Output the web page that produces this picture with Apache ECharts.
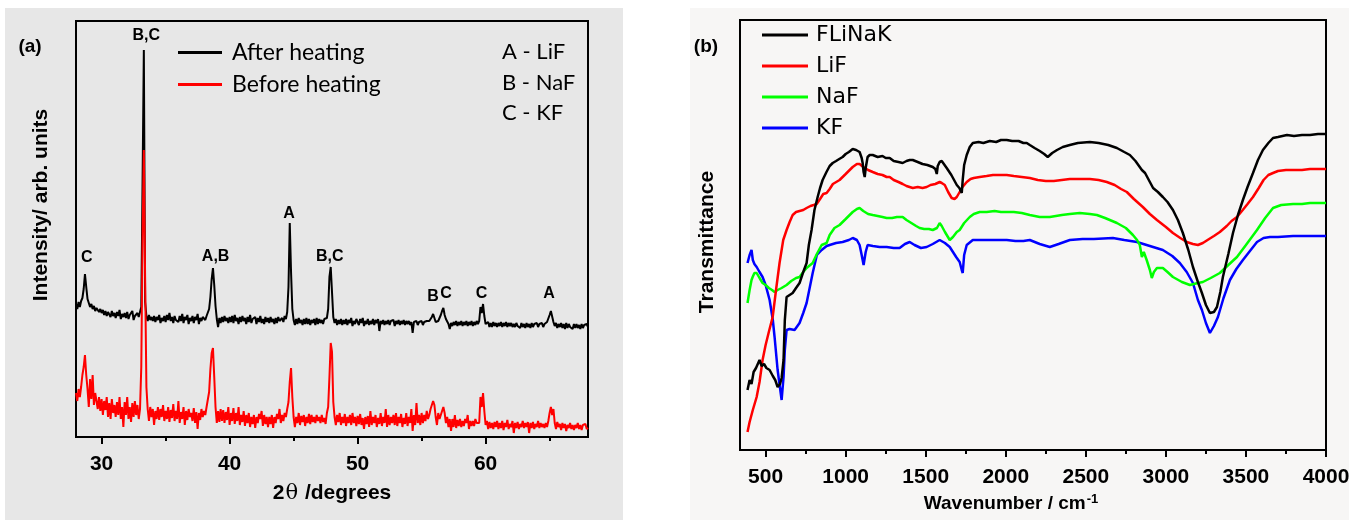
<!DOCTYPE html>
<html>
<head>
<meta charset="utf-8">
<title>XRD and FTIR of FLiNaK</title>
<script src="https://cdn.jsdelivr.net/npm/echarts@6/dist/echarts.min.js"></script>
<style>
  html, body { margin: 0; padding: 0; background: #fff; }
  #wrap { position: relative; width: 1359px; height: 520px; }
  .panel { position: absolute; }
  #bgA { left: 5px; top: 8px; width: 618px; height: 512px; background: #e7e7e7; }
  #bgB { left: 690px; top: 8px; width: 659px; height: 512px; background: #f7f6f5; }
  #chart { position: absolute; left: 0; top: 0; width: 1359px; height: 520px; }
</style>
</head>
<body>
<div id="wrap">
  <div class="panel" id="bgA"></div>
  <div class="panel" id="bgB"></div>
  <div id="chart"></div>
</div>
<script>
// (a) XRD step scan: 28.0 .. 68.0 deg, 0.1 deg step, intensity in arb. units
const scanStart = 28.0;
const scanStep = 0.1;
// after heating (one row = one degree)
const xrdAfter = [
  133,128,135,130,136,139,148,163,150,138,
  134,130,133,128,131,126,129,127,125,128,
  124,127,122,126,121,125,123,120,126,121,
  124,119,125,121,127,118,123,120,124,119,
  125,118,122,120,126,117,121,119,124,120,
  121,130,255,387,135,121,116,122,117,120,
  116,121,115,120,117,122,114,119,116,121,
  115,122,117,124,116,120,114,121,117,119,
  115,121,116,123,114,120,117,122,113,119,
  116,121,114,120,117,123,113,119,116,120,
  118,117,121,119,128,140,158,169,152,131,
  118,110,119,114,120,115,121,116,119,114,
  120,115,121,114,122,116,119,113,120,115,
  121,116,119,113,120,115,122,114,118,116,
  120,113,119,115,121,114,118,113,120,115,
  119,114,120,115,118,113,119,114,120,116,
  114,119,115,121,118,125,150,214,165,128,
  117,112,118,113,119,114,117,112,118,113,
  119,113,118,112,117,114,118,112,119,113,
  118,114,117,113,118,116,119,128,160,170,
  145,120,114,118,112,117,113,118,112,117,
  113,118,112,117,114,119,111,116,113,118,
  117,112,118,114,119,111,116,113,118,112,
  116,113,118,112,117,114,118,106,116,113,
  117,112,116,113,117,112,116,114,117,111,
  116,113,117,112,116,113,117,112,116,113,
  116,112,115,104,115,113,116,112,115,113,
  116,112,115,113,116,114,116,117,120,123,
  119,115,113,116,118,122,126,129,122,118,
  116,113,108,114,111,115,112,116,111,115,
  112,116,111,115,112,116,111,115,112,116,
  111,115,112,116,113,116,130,124,133,121,
  113,111,115,110,114,110,115,111,114,110,
  114,111,115,110,114,111,115,110,114,111,
  114,110,113,110,114,111,113,109,114,110,
  113,109,114,110,113,109,114,110,113,111,
  114,110,113,111,114,110,113,111,115,117,
  122,126,124,115,111,114,109,113,110,114,
  109,113,108,114,109,113,110,112,108,113,
  109,113,109,112,108,113,109,112,110,113,
  110
];
// before heating
const xrdBefore = [
  44,36,48,40,50,62,70,82,62,48,
  30,58,38,62,32,44,36,28,40,26,
  38,22,36,27,40,20,34,18,38,24,
  32,20,35,22,40,18,30,10,35,22,
  40,18,30,15,34,20,36,22,32,18,
  28,70,200,287,160,50,28,16,30,20,
  28,12,26,18,30,17,28,20,32,16,
  26,18,30,15,27,19,33,16,26,18,
  36,14,25,18,30,12,26,17,28,20,
  24,16,29,14,25,8,24,17,28,20,
  26,22,30,30,45,68,84,89,60,30,
  14,26,15,28,16,27,14,25,17,30,
  12,24,16,29,13,24,16,30,12,22,
  15,26,11,22,14,24,10,20,13,22,
  9,20,14,23,18,26,11,22,13,20,
  10,20,13,22,9,20,14,23,18,28,
  14,22,16,24,20,28,35,55,69,40,
  20,10,20,14,24,12,21,15,22,11,
  20,14,23,13,22,15,20,14,22,16,
  20,14,22,15,19,13,24,30,60,94,
  85,35,20,12,22,15,24,12,20,14,
  23,11,20,14,22,12,24,14,20,11,
  21,13,23,12,19,8,20,13,21,10,
  26,12,20,14,22,10,19,13,24,11,
  20,14,28,10,22,12,20,14,22,12,
  24,11,20,14,23,10,19,13,24,11,
  20,14,28,6,22,12,34,14,22,12,
  24,14,22,16,26,18,22,28,32,36,
  32,20,12,24,18,22,26,30,24,14,
  20,10,18,6,18,10,22,9,17,11,
  18,10,16,11,18,14,22,8,16,11,
  16,11,18,14,16,14,40,30,44,26,
  12,16,8,15,9,14,8,15,10,16,
  8,14,9,16,7,14,10,17,8,13,
  10,16,4,14,9,15,8,13,10,16,
  9,14,10,15,4,14,9,15,8,13,
  10,16,9,14,10,13,9,14,10,16,
  24,30,22,28,14,8,15,10,13,7,
  14,9,13,6,12,9,14,8,12,7,
  12,9,14,8,12,7,12,10,13,8,
  9
];
// peak labels: text, 2theta, intensity at label centre
const peakLabels = [
  ['C', 28.84, 179], ['B,C', 33.49, 401], ['A,B', 38.91, 180], ['A', 44.65, 223],
  ['B,C', 47.83, 180], ['B', 55.89, 140], ['C', 56.9, 143], ['C', 59.69, 143], ['A', 64.96, 143]
];
const phaseKey = ['A - LiF', 'B - NaF', 'C - KF'];
const xrdTicks = [30, 40, 50, 60];
const xrdMinorTicks = [35, 45, 55, 65];

// (b) FTIR, wavenumber in cm-1, transmittance in arb. units
const irFlinak = [
  [387,60],[400,70],[412,66],[425,78],[440,82],[462,90],[475,84],[490,86],[505,82],[525,80],[545,74],[560,70],
  [575,63],[590,66],[600,72],[612,90],[620,130],[631,153],[650,155],[669,157],[690,162],[712,167],[735,178],
  [756,187],[770,205],[787,220],[805,240],[825,253],[840,262],[856,270],[880,278],[900,284],[919,287],[940,289],
  [960,291],[981,293],[1000,296],[1020,298],[1044,301],[1065,300],[1087,298],[1100,292],[1106,287],[1112,278],
  [1119,273],[1125,282],[1137,293],[1150,295],[1169,295],[1200,293],[1230,294],[1250,292],[1275,292],[1300,289],
  [1330,288],[1356,287],[1380,289],[1400,290],[1419,290],[1450,288],[1480,286],[1510,285],[1544,283],[1560,281],
  [1569,276],[1575,284],[1587,288],[1600,289],[1631,282],[1660,275],[1694,265],[1710,262],[1725,257],[1731,270],
  [1740,285],[1756,295],[1775,303],[1794,307],[1830,308],[1860,307],[1900,309],[1940,308],[1970,310],[2006,310],
  [2040,309],[2080,309],[2110,307],[2131,307],[2150,305],[2180,302],[2212,299],[2240,296],[2262,293],[2290,297],
  [2320,300],[2356,303],[2400,305],[2450,307],[2525,308],[2580,307],[2640,305],[2694,302],[2740,298],[2775,295],
  [2810,289],[2850,280],[2870,277],[2900,268],[2920,262],[2931,260],[2950,258],[2981,253],[3010,248],[3044,240],
  [3075,230],[3106,217],[3140,200],[3169,183],[3200,168],[3225,157],[3250,145],[3275,137],[3300,138],[3319,143],
  [3340,158],[3356,173],[3390,196],[3419,217],[3450,235],[3481,250],[3510,263],[3544,277],[3575,290],[3606,300],
  [3640,307],[3669,312],[3700,313],[3756,315],[3800,314],[3850,315],[3900,315],[3950,316],[4000,316]
];
const irLiF = [
  [387,18],[400,28],[420,40],[444,53],[462,68],[481,90],[500,105],[520,118],[544,133],[565,160],[587,187],
  [610,210],[631,220],[650,228],[669,235],[690,238],[712,239],[735,240],[756,242],[780,244],[800,245],[819,246],
  [840,251],[860,256],[881,257],[900,261],[920,266],[962,270],[1000,276],[1025,280],[1044,283],[1070,286],
  [1087,286],[1110,283],[1140,280],[1169,278],[1200,276],[1230,275],[1256,273],[1275,273],[1300,270],[1330,268],
  [1356,266],[1380,264],[1419,262],[1450,263],[1480,262],[1506,263],[1530,265],[1560,266],[1587,268],[1600,267],
  [1619,265],[1640,258],[1662,252],[1680,251],[1694,253],[1712,258],[1730,263],[1756,268],[1780,271],[1800,272],
  [1837,273],[1880,274],[1920,275],[1960,275],[2006,275],[2050,274],[2100,273],[2150,272],[2200,270],[2250,269],
  [2300,269],[2350,270],[2400,271],[2450,271],[2525,271],[2580,270],[2631,268],[2680,265],[2720,261],[2756,258],
  [2800,251],[2856,243],[2900,236],[2944,230],[3000,223],[3044,217],[3090,212],[3130,208],[3169,206],[3200,205],
  [3231,207],[3270,211],[3300,214],[3337,218],[3380,224],[3410,229],[3444,233],[3480,240],[3510,246],[3544,253],
  [3580,262],[3610,270],[3640,275],[3669,277],[3700,279],[3750,280],[3794,280],[3850,280],[3900,281],[3950,281],
  [4000,281]
];
const irNaF = [
  [387,147],[400,160],[412,170],[419,173],[430,177],[444,177],[462,172],[481,167],[500,165],[520,162],[540,160],
  [556,158],[575,160],[600,162],[631,165],[660,169],[690,172],[712,173],[735,178],[756,182],[794,187],[820,196],
  [850,205],[881,207],[900,215],[930,222],[962,225],[1000,231],[1025,235],[1044,238],[1070,241],[1087,242],
  [1110,239],[1140,236],[1169,235],[1200,234],[1230,233],[1256,232],[1290,232],[1320,233],[1356,233],[1380,230],
  [1410,227],[1440,224],[1462,222],[1490,221],[1520,221],[1544,220],[1570,222],[1587,227],[1600,224],[1620,218],
  [1650,210],[1670,213],[1694,218],[1712,220],[1740,227],[1775,233],[1800,236],[1837,238],[1881,238],[1930,239],
  [1970,238],[2006,238],[2050,238],[2100,237],[2150,235],[2212,233],[2275,233],[2350,235],[2400,236],[2462,237],
  [2525,236],[2569,235],[2620,232],[2694,227],[2750,222],[2794,215],[2820,210],[2837,205],[2850,193],[2862,198],
  [2869,200],[2880,190],[2900,180],[2912,172],[2925,178],[2944,182],[2981,182],[3010,178],[3044,173],[3100,168],
  [3150,165],[3200,167],[3231,168],[3280,172],[3337,177],[3390,185],[3444,193],[3500,205],[3569,220],[3620,232],
  [3669,242],[3720,245],[3794,246],[3850,246],[3900,247],[3950,247],[4000,247]
];
const irKF = [
  [387,187],[400,195],[412,200],[420,190],[430,186],[444,183],[462,178],[481,173],[500,165],[525,150],[545,130],
  [556,113],[575,80],[590,62],[600,50],[612,73],[620,100],[631,120],[650,121],[681,120],[712,127],[735,137],
  [756,147],[775,162],[794,177],[820,195],[850,200],[881,204],[900,205],[940,207],[981,208],[1020,210],[1044,212],
  [1070,210],[1087,205],[1100,195],[1112,185],[1125,198],[1137,205],[1170,204],[1212,203],[1256,203],[1300,202],
  [1337,202],[1370,206],[1400,208],[1430,205],[1470,202],[1506,203],[1544,206],[1587,210],[1620,207],[1650,203],
  [1690,193],[1712,188],[1725,180],[1731,177],[1740,195],[1756,205],[1794,210],[1850,210],[1900,210],[1950,210],
  [2006,210],[2060,209],[2110,209],[2150,210],[2212,206],[2275,203],[2330,206],[2400,210],[2480,211],[2550,211],
  [2669,212],[2740,210],[2819,208],[2900,204],[2981,200],[3040,194],[3087,187],[3130,178],[3169,167],[3200,150],
  [3225,140],[3250,127],[3275,117],[3300,124],[3325,133],[3360,152],[3400,170],[3440,181],[3481,190],[3520,198],
  [3569,208],[3610,212],[3650,213],[3700,213],[3794,214],[3900,214],[4000,214]
];
const irTicks = [500, 1000, 1500, 2000, 2500, 3000, 3500, 4000];
const irMinorTicks = [750, 1250, 1750, 2250, 2750, 3250, 3750];

const boldFont = "Liberation Sans";
const legendFont = "Lato";

// pair each intensity with its 2theta on the scan grid
function onScanGrid(values) {
  return values.map((v, i) => [+(scanStart + i * scanStep).toFixed(1), v]);
}

const chart = echarts.init(document.getElementById("chart"), null, { renderer: "canvas" });

// x axis pair: one with labels + major ticks, one with only minor ticks
function xAxisPair(gridIndex, min, max, ticks, minor, name, nameGap, nameStyle, labelMargin) {
  return [
    {
      gridIndex, type: "value", min, max,
      name, nameLocation: "middle", nameGap,
      nameTextStyle: nameStyle,
      axisLine: { lineStyle: { color: "#000", width: 2 } },
      axisTick: { customValues: ticks, length: 7, lineStyle: { color: "#000", width: 2 } },
      axisLabel: {
        customValues: ticks, margin: labelMargin, color: "#000",
        fontFamily: boldFont, fontWeight: "bold", fontSize: 21,
        formatter: v => String(v)
      },
      splitLine: { show: false }
    },
    {
      gridIndex, type: "value", min, max, position: "bottom",
      axisLine: { show: false },
      axisTick: { customValues: minor, length: 4, lineStyle: { color: "#000", width: 2 } },
      axisLabel: { show: false },
      splitLine: { show: false }
    }
  ];
}

const option = {
  animation: false,
  backgroundColor: "transparent",
  grid: [
    { left: 76, top: 21, right: 771, bottom: 83, show: true, borderColor: "#000", borderWidth: 2, backgroundColor: "transparent" },
    { left: 740, top: 20, right: 33, bottom: 70, show: true, borderColor: "#000", borderWidth: 2, backgroundColor: "transparent" }
  ],
  xAxis: [
    ...xAxisPair(0, 28, 68, xrdTicks, xrdMinorTicks, "{b|2}{th|θ}{b| /degrees}", 46,
      {
        color: "#000",
        rich: {
          b: { fontFamily: boldFont, fontWeight: "bold", fontSize: 21, color: "#000" },
          th: { fontFamily: "DejaVu Serif", fontWeight: "normal", fontSize: 21, color: "#000", padding: [0, 1, 0, 1] }
        }
      }, 17),
    ...xAxisPair(1, 340, 4000, irTicks, irMinorTicks, "{t|Wavenumber / cm}{s|-1}", 43,
      {
        color: "#000", padding: [0, 44, 0, 0],
        rich: {
          t: { fontFamily: boldFont, fontWeight: "bold", fontSize: 19, color: "#000" },
          s: { fontFamily: boldFont, fontWeight: "bold", fontSize: 13, color: "#000", verticalAlign: "top", padding: [0, 0, 8, 1] }
        }
      }, 17)
  ],
  yAxis: [
    {
      gridIndex: 0, type: "value", min: 0, max: 416,
      name: "Intensity/ arb. units", nameLocation: "middle", nameGap: 24,
      nameTextStyle: { fontFamily: boldFont, fontWeight: "bold", fontSize: 21, color: "#000", padding: [0, 0, 0, 48] },
      axisLine: { show: true, lineStyle: { color: "#000", width: 2 } },
      axisTick: { show: false }, axisLabel: { show: false }, splitLine: { show: false }
    },
    {
      gridIndex: 1, type: "value", min: 0, max: 430,
      name: "Transmittance", nameLocation: "middle", nameGap: 22,
      nameTextStyle: { fontFamily: boldFont, fontWeight: "bold", fontSize: 21, color: "#000", padding: [0, 14, 0, 0] },
      axisLine: { show: true, lineStyle: { color: "#000", width: 2 } },
      axisTick: { show: false }, axisLabel: { show: false }, splitLine: { show: false }
    }
  ],
  legend: [
    {
      data: ["After heating", "Before heating"], orient: "vertical", left: 178, top: 41, padding: 0,
      icon: "rect", itemWidth: 44, itemHeight: 3, itemGap: 9,
      textStyle: { fontFamily: legendFont, fontSize: 23, lineHeight: 23, color: "#000", padding: [0, 0, 0, 5] }
    },
    {
      data: ["FLiNaK", "LiF", "NaF", "KF"], orient: "vertical", left: 762, top: 24, padding: 0,
      icon: "rect", itemWidth: 46, itemHeight: 3, itemGap: 9,
      textStyle: { fontFamily: "DejaVu Sans", fontSize: 22, lineHeight: 22, color: "#000", padding: [0, 0, 0, 3] }
    }
  ],
  graphic: [
    { type: "text", x: 30, y: 47, style: { text: "(a)", font: "bold 19px " + boldFont, fill: "#000", textAlign: "center", textVerticalAlign: "middle" } },
    { type: "text", x: 706, y: 47, style: { text: "(b)", font: "bold 19px " + boldFont, fill: "#000", textAlign: "center", textVerticalAlign: "middle" } },
    ...phaseKey.map((t, i) => ({
      type: "text", x: 502, y: [52, 83, 113][i],
      style: { text: t, font: "22px " + legendFont, fill: "#000", textAlign: "left", textVerticalAlign: "middle" }
    }))
  ],
  series: [
    {
      name: "After heating", type: "line", xAxisIndex: 0, yAxisIndex: 0, data: onScanGrid(xrdAfter),
      showSymbol: false, symbol: "none", lineStyle: { color: "#000", width: 2 }, itemStyle: { color: "#000" },
      markPoint: {
        symbol: "circle", symbolSize: 1, itemStyle: { color: "rgba(0,0,0,0)" },
        label: { show: true, position: "inside", formatter: "{b}", color: "#000", fontFamily: boldFont, fontWeight: "bold", fontSize: 16 },
        data: peakLabels.map(p => ({ name: p[0], coord: [p[1], p[2]] }))
      }
    },
    {
      name: "Before heating", type: "line", xAxisIndex: 0, yAxisIndex: 0, data: onScanGrid(xrdBefore),
      showSymbol: false, symbol: "none", lineStyle: { color: "#ff0000", width: 2 }, itemStyle: { color: "#ff0000" }
    },
    {
      name: "KF", type: "line", xAxisIndex: 2, yAxisIndex: 1, data: irKF,
      showSymbol: false, symbol: "none", lineStyle: { color: "#0000ff", width: 2.5 }, itemStyle: { color: "#0000ff" }
    },
    {
      name: "NaF", type: "line", xAxisIndex: 2, yAxisIndex: 1, data: irNaF,
      showSymbol: false, symbol: "none", lineStyle: { color: "#00ff00", width: 2.5 }, itemStyle: { color: "#00ff00" }
    },
    {
      name: "LiF", type: "line", xAxisIndex: 2, yAxisIndex: 1, data: irLiF,
      showSymbol: false, symbol: "none", lineStyle: { color: "#ff0000", width: 2.5 }, itemStyle: { color: "#ff0000" }
    },
    {
      name: "FLiNaK", type: "line", xAxisIndex: 2, yAxisIndex: 1, data: irFlinak,
      showSymbol: false, symbol: "none", lineStyle: { color: "#000", width: 2.5 }, itemStyle: { color: "#000" }
    }
  ]
};

chart.setOption(option);
</script>
</body>
</html>
